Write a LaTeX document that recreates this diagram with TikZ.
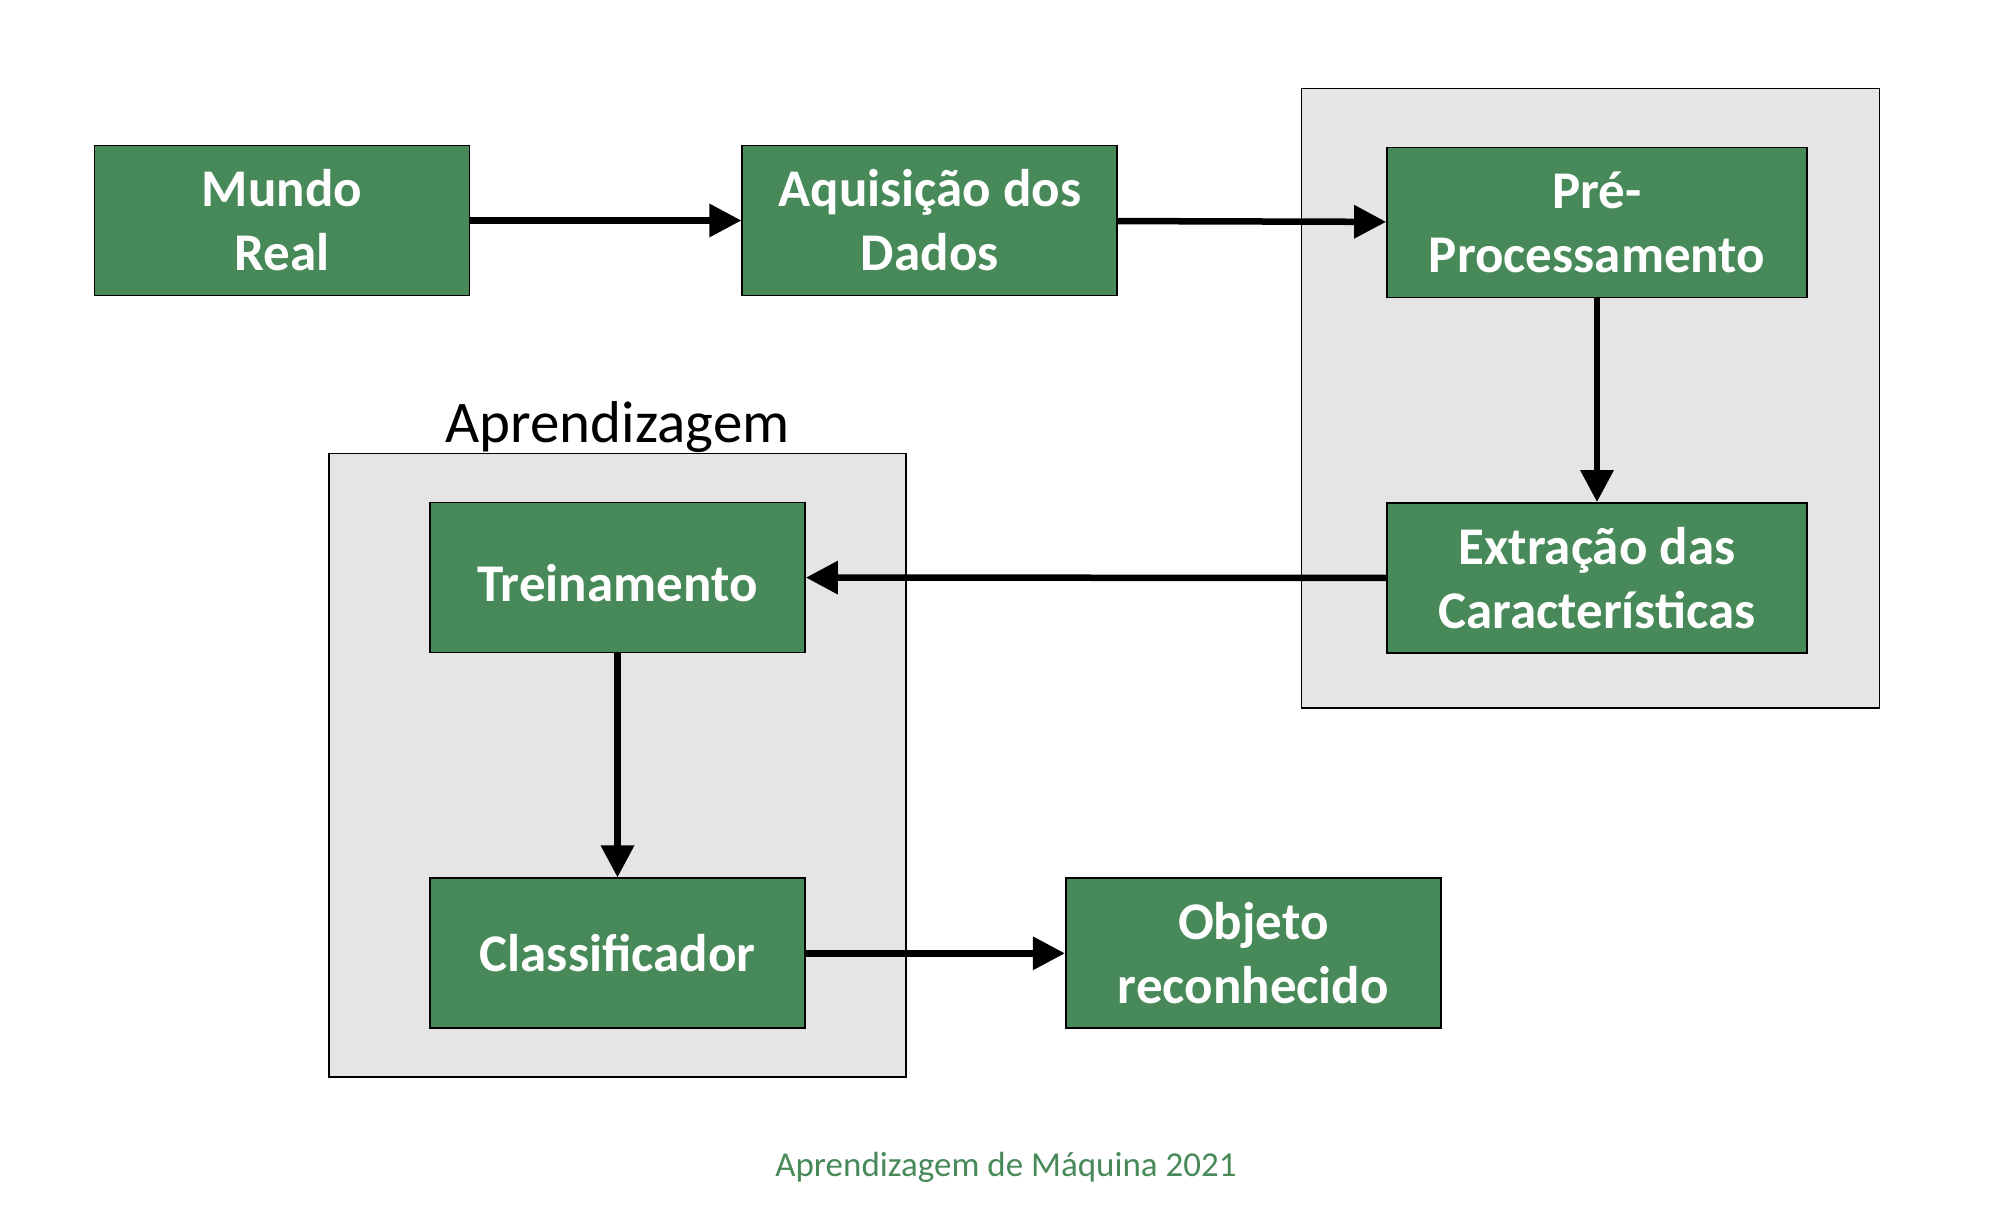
\documentclass[tikz,border=0pt]{standalone}
\usepackage{fontspec}
\setmainfont{Carlito}
\usetikzlibrary{arrows.meta,backgrounds,positioning,fit}
\definecolor{boxgreen}{RGB}{71,137,88}
\definecolor{panelgray}{RGB}{229,229,229}

\begin{document}
\begin{tikzpicture}
    [x=0.5pt, y=-0.5pt,
    etapa/.style={draw=black, line width=0.9pt, fill=boxgreen, text=white,
      font=\fontsize{26.5}{32}\selectfont\bfseries, align=center,
      minimum width=187.5pt, minimum height=75pt, inner sep=0pt},
    largo/.style={minimum width=210pt},
    linha/.style={text height=24pt, text depth=0pt},
    seta/.style={draw, line width=3.25pt, -{Triangle[length=16pt,width=16pt]}},
    painel/.style={draw=black, line width=0.8pt, fill=panelgray}]
    \useasboundingbox (0,0) rectangle (2012,1226);
    \node [etapa] (MR) at (282,220.5) {Mundo\\Real};
    \node [etapa, right=135.5pt of MR] (AD) {Aquisição dos\\Dados};
    \node [etapa, largo] (PP) at (1597,222.5) {Pré-\\Processamento};
    \node [etapa, largo] (EC) at (1597,578) {Extração das\\Características};
    \node [etapa, linha] (TR) at (617.5,577.5) {Treinamento};
    \node [etapa, below=112pt of TR] (CL) {Classificador};
    \node [etapa, right=129.5pt of CL] (OR) {Objeto\\reconhecido};
    \draw [seta] (MR) -- (AD);
    \draw [seta] (AD) -- (PP);
    \draw [seta] (PP) -- (EC);
    \draw [seta] (EC) -- (TR);
    \draw [seta] (TR) -- (CL);
    \draw [seta] (CL) -- (OR);
  \begin{pgfonlayer}{background}
    \node [painel, inner xsep=39pt, inner ysep=28pt, xshift=-3.25pt, yshift=1pt, fit=(PP) (EC)] (PF) {};
    \node [painel, inner xsep=50pt, inner ysep=24pt, fit=(TR) (CL)] (AP) {};
  \end{pgfonlayer}
    \node [above=0pt of AP, inner sep=0pt, font=\fontsize{29.5}{35}\selectfont] (APt) {Aprendizagem};
    \node [anchor=base, text=boxgreen, font=\fontsize{17.5}{21}\selectfont] (rod) at (1006,1176) {Aprendizagem de Máquina 2021};
  \end{tikzpicture}
\end{document}
